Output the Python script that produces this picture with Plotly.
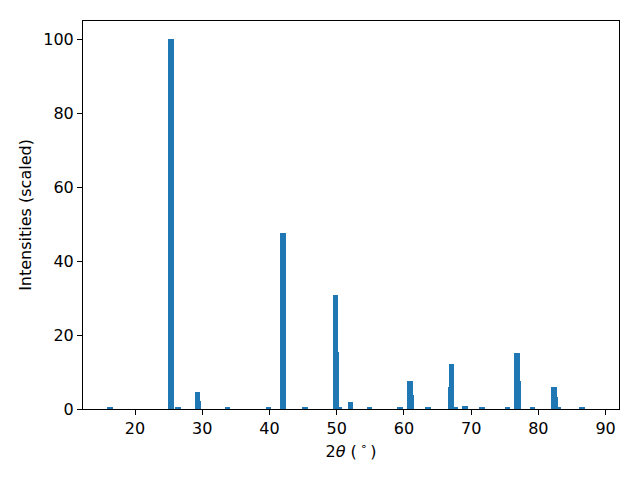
import plotly.graph_objects as go

two_theta = [16.3, 25.35, 26.4, 29.3, 29.45, 33.8, 39.9, 42.0, 45.3, 49.8, 49.95, 50.4,
             52.1, 54.9, 59.4, 60.9, 61.05, 63.6, 66.95, 67.1, 67.7, 69.1, 71.6, 75.4,
             76.8, 76.95, 79.1, 82.35, 82.5, 83.0, 86.5]
intensities = [0.3, 100, 0.3, 4.6, 2.3, 0.5, 0.3, 47.6, 0.3, 30.8, 15.4, 0.3,
               1.9, 0.3, 0.3, 7.6, 3.9, 0.3, 6.0, 12.2, 0.3, 0.8, 0.3, 0.3,
               15.2, 7.6, 0.3, 6.0, 3.2, 0.3, 0.3]
x_ticks = [20, 30, 40, 50, 60, 70, 80, 90]
y_ticks = [0, 20, 40, 60, 80, 100]

fig = go.Figure(go.Bar(
    x=two_theta, y=intensities, width=0.8,
    marker=dict(color="#1f77b4", line=dict(width=0)),
))

font = dict(family="DejaVu Sans", size=16, color="black")
axis_common = dict(showline=True, linecolor="black", linewidth=1, mirror=True,
                   ticks="outside", ticklen=5, tickcolor="black", showgrid=False,
                   zeroline=False, tickfont=font, automargin=False)

fig.update_layout(
    width=640, height=480,
    margin=dict(l=75, r=29, t=13, b=79),
    plot_bgcolor="white", paper_bgcolor="white",
    showlegend=False, bargap=0,
    font=font,
)
fig.update_xaxes(range=[12.26, 92.0], tickvals=x_ticks,
                 title=dict(text="2<i>θ</i> (\u2009<sup>∘</sup>\u2009)", font=font, standoff=8),
                 **axis_common)
fig.update_yaxes(range=[0, 105], tickvals=y_ticks,
                 title=dict(text="Intensities (scaled)", font=font, standoff=7),
                 **axis_common)

fig.write_html("out.html")
